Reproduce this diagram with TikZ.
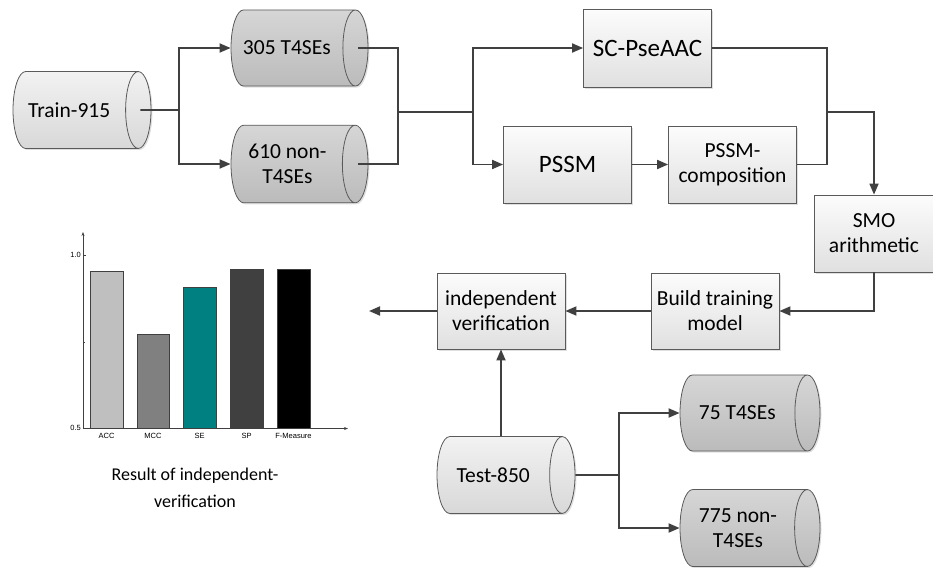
\documentclass[tikz,border=0pt]{standalone}
\usepackage{fontspec}
\setmainfont{Carlito}
\newfontfamily\chartfont{Liberation Sans}
\usetikzlibrary{arrows.meta,shapes.geometric,shadows}

\definecolor{lineg}{HTML}{404040}
\definecolor{edgeg}{HTML}{5A5A5A}
\definecolor{boxtop}{HTML}{FCFCFC}
\definecolor{boxbot}{HTML}{E0E0E0}
\definecolor{storelt}{HTML}{F2F2F2}
\definecolor{storelb}{HTML}{D8D8D8}
\definecolor{storedt}{HTML}{D6D6D6}
\definecolor{storedb}{HTML}{BBBBBB}
\definecolor{barteal}{HTML}{008080}

\tikzset{
  lightshadow/.style={drop shadow={shadow xshift=1.5pt, shadow yshift=-1.5pt, opacity=0.25}},
  procbox/.style={rectangle, draw=edgeg, line width=0.8pt, top color=boxtop, bottom color=boxbot,
    minimum width=128pt, minimum height=77pt, inner sep=2pt, align=center,
    font=\fontsize{21.5}{25}\selectfont, lightshadow},
  bigbox/.style={procbox, font=\fontsize{25}{29}\selectfont},
  % for a lying cylinder: height runs along the axis, width across it;
  % the end ellipse follows the natural size, so inner ysep sets it
  store/.style={cylinder, shape border rotate=0, aspect=0.33, anchor=shape center,
    draw=edgeg, line width=0.8pt, minimum height=138pt, inner xsep=2pt, inner ysep=31pt,
    align=center, font=\fontsize{21.5}{25}\selectfont, lightshadow},
  twoline/.style={inner ysep=19pt},
  rawstore/.style={store, top color=storelt, bottom color=storelb},
  subset/.style={store, top color=storedt, bottom color=storedb},
  conn/.style={draw=lineg, line width=1.8pt},
  arr/.style={conn, -{Triangle[length=11pt, width=9pt]}},
  axisline/.style={draw=lineg, line width=0.7pt},
  bar/.style={draw=lineg, line width=1pt},
  ticklab/.style={inner sep=1pt, font=\chartfont\fontsize{7.5}{9}\selectfont},
}

\begin{document}
\begin{tikzpicture}[x=1pt, y=-1pt]
  \useasboundingbox (0,0) rectangle (933,568);

  % Training data and its split
  \node[rawstore] (train) at (82,110) {Train-915};
  \node[subset, minimum height=137pt] (pos) at (299.5,48) {305 T4SEs};
  \node[subset, twoline, minimum height=137pt] (neg) at (299.5,164) {610 non-\\T4SEs};

  % Feature extraction
  \node[bigbox, minimum height=78pt] (scpse) at (647.5,48) {SC-PseAAC};
  \node[bigbox] (pssm) at (567.5,164.5) {PSSM};
  \node[procbox] (pssmcomp) at (732.5,164.5) {PSSM-\\composition};
  \node[procbox, minimum width=119pt] (smo) at (874,233.5) {SMO\\arithmetic};
  \node[procbox, minimum height=76pt] (build) at (715,311) {Build training\\model};
  \node[procbox, minimum height=76pt] (indep) at (501,311) {independent\\verification};

  % Test data and its split
  \node[rawstore] (test) at (506,475) {Test-850};
  \node[subset, minimum height=140pt] (tpos) at (750,413) {75 T4SEs};
  \node[subset, twoline, minimum height=140pt] (tneg) at (750,528) {775 non-\\T4SEs};

  \coordinate (split1) at (179,110);
  \coordinate (merge1) at (398,112);
  \coordinate (split2) at (473,112);
  \coordinate (merge2) at (827,112);
  \coordinate (split3) at (619,475);
  \coordinate (result) at (369,311);

  % Connectors
  \draw[conn] ([xshift=-11pt]train.east) -- (split1);
  \draw[arr] (split1) |- (pos.west);
  \draw[arr] (split1) |- (neg.west);
  \draw[conn] ([xshift=-10pt]pos.east) -| (merge1);
  \draw[conn] ([xshift=-10pt]neg.east) -| (merge1);
  \draw[conn] (merge1) -- (split2);
  \draw[arr] (split2) |- (scpse.west);
  \draw[arr] (split2) |- (pssm.west);
  \draw[arr] (pssm) -- (pssmcomp);
  \draw[conn] (scpse.east) -| (merge2);
  \draw[conn] (pssmcomp.east) -| (merge2);
  \draw[arr] (merge2) -| (smo.north);
  \draw[arr] (smo.south) |- (build.east);
  \draw[arr] (build) -- (indep);
  \draw[arr] (indep.west) -- (result);
  \draw[arr] (indep.south |- test.north) -- (indep.south);
  \draw[conn] (test.east) -- (split3);
  \draw[arr] (split3) |- (tpos.west);
  \draw[arr] (split3) |- (tneg.west);

  % Bar chart of the independent test
  \draw[axisline, -{Stealth[length=4pt, width=3pt]}] (83,429) -- (83,232);
  \draw[axisline, -{Stealth[length=4pt, width=3pt]}] (83,428.5) -- (348,428.5);
  \draw[axisline] (83,255) -- (86,255);
  \draw[axisline] (83,342) -- (85,342);
  \node[ticklab, anchor=east] (ytop) at (82,255) {1.0};
  \node[ticklab, anchor=east] (ybot) at (82,428) {0.5};

  \filldraw[bar, fill=gray!50] (90,428) rectangle (123,271);
  \filldraw[bar, fill=gray] (137,428) rectangle (169,334);
  \filldraw[bar, fill=barteal] (183,428) rectangle (216,287);
  \filldraw[bar, fill=lineg] (230,428) rectangle (263,269);
  \filldraw[bar, fill=black] (277,428) rectangle (310,269);

  \node[ticklab] (lacc) at (106.5,436) {ACC};
  \node[ticklab] (lmcc) at (153,436) {MCC};
  \node[ticklab] (lse) at (199.5,436) {SE};
  \node[ticklab] (lsp) at (246.5,436) {SP};
  \node[ticklab] (lfm) at (293.5,436) {F-Measure};

  \node[align=center, font=\fontsize{18}{27}\selectfont] (caption) at (195,488)
    {Result of independent-\\verification};
\end{tikzpicture}
\end{document}
